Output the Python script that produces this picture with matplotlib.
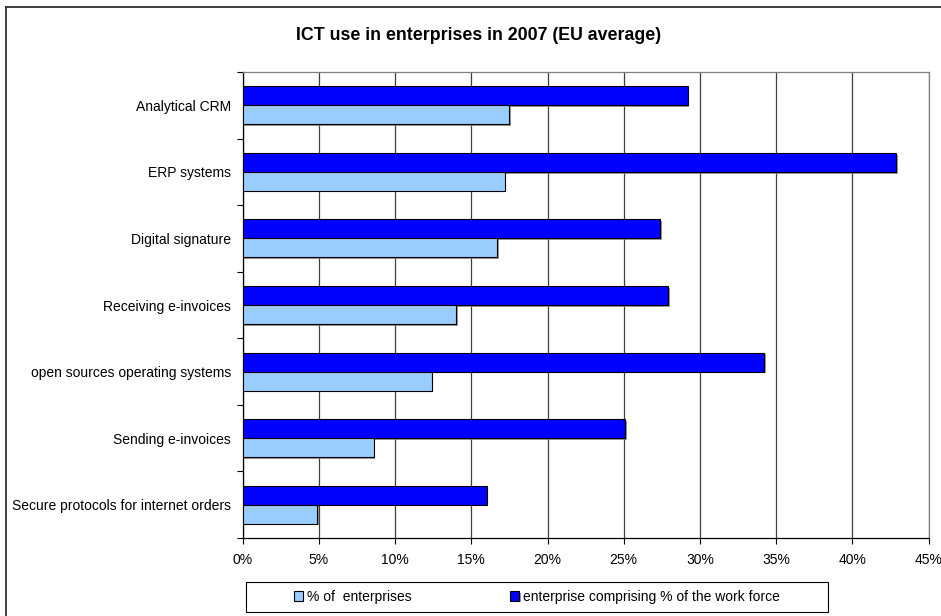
import numpy as np
import matplotlib
matplotlib.use("Agg")
import matplotlib.pyplot as plt
from matplotlib.patches import Rectangle
from matplotlib.lines import Line2D
from matplotlib import patheffects

plt.rcParams['font.family'] = ['Liberation Sans', 'DejaVu Sans']

# ICT usage, EU average 2007 (top to bottom as listed)
categories = [
    "Analytical CRM",
    "ERP systems",
    "Digital signature",
    "Receiving e-invoices",
    "open sources operating systems",
    "Sending e-invoices",
    "Secure protocols for internet orders",
]
pct_enterprises = [17.5, 17.2, 16.7, 14.0, 12.4, 8.6, 4.9]
pct_workforce = [29.2, 42.9, 27.4, 27.9, 34.2, 25.1, 16.0]
xticks = [0, 5, 10, 15, 20, 25, 30, 35, 40, 45]

W, H = 941, 616
fig = plt.figure(figsize=(W / 100, H / 100), dpi=100)
fig.patch.set_facecolor("white")

ax = fig.add_axes([242.7 / W, 1 - 538 / H, 685.8 / W, 466 / H])

y = np.arange(len(categories))
h = 0.285
shadow = [patheffects.SimplePatchShadow(offset=(1.2, -1.2), shadow_rgbFace="#808080", alpha=0.8),
          patheffects.Normal()]

ax.barh(y - h / 2, pct_workforce, height=h, color="#0000FF", edgecolor="black",
        linewidth=0.8, label="enterprise comprising % of the work force",
        path_effects=shadow, zorder=3)
ax.barh(y + h / 2, pct_enterprises, height=h, color="#99CCFF", edgecolor="black",
        linewidth=0.8, label="% of  enterprises", path_effects=shadow, zorder=3)

ax.set_xlim(0, 45)
ax.set_ylim(len(categories) - 0.5, -0.5)

ax.set_xticks(xticks)
ax.set_xticklabels([f"{v}%" for v in xticks], fontsize=10)
ax.set_yticks(y)
ax.set_yticklabels(categories, fontsize=10)
ax.set_yticks(np.arange(len(categories) + 1) - 0.5, minor=True)

ax.tick_params(axis="y", which="major", length=0, pad=8.5)
ax.tick_params(axis="y", which="minor", length=4, width=0.8, direction="out")
ax.tick_params(axis="x", which="major", length=4, width=0.8, direction="out", pad=7)

ax.grid(axis="x", color="#404040", linewidth=0.9, zorder=1)
ax.set_axisbelow(True)

for side in ("left", "bottom"):
    ax.spines[side].set_color("black")
    ax.spines[side].set_linewidth(0.9)
for side in ("top", "right"):
    ax.spines[side].set_color("#808080")
    ax.spines[side].set_linewidth(0.9)

fig.text(479 / W, 1 - 35 / H, "ICT use in enterprises in 2007 (EU average)",
         fontsize=12.8, fontweight="bold", ha="center", va="center")

# legend box below the axis
fig.patches.append(Rectangle((246 / W, 1 - 612 / H), 582 / W, 30 / H,
                             transform=fig.transFigure, facecolor="white",
                             edgecolor="black", linewidth=0.8))
handles, labels = ax.get_legend_handles_labels()
fig.legend(handles[::-1], labels[::-1], ncol=2, frameon=False, loc="center",
           bbox_to_anchor=(537 / W, 1 - 597 / H), fontsize=10,
           handlelength=0.65, handleheight=0.65, handletextpad=0.3,
           columnspacing=7.1)

# chart area frame (left and top edges)
fig.add_artist(Line2D([6 / W, 6 / W], [0, 1 - 7 / H], transform=fig.transFigure,
                      color="#303030", linewidth=1.3))
fig.add_artist(Line2D([6 / W, 1], [1 - 7 / H, 1 - 7 / H], transform=fig.transFigure,
                      color="#303030", linewidth=1.3))

fig.savefig("out.png", dpi=100)
